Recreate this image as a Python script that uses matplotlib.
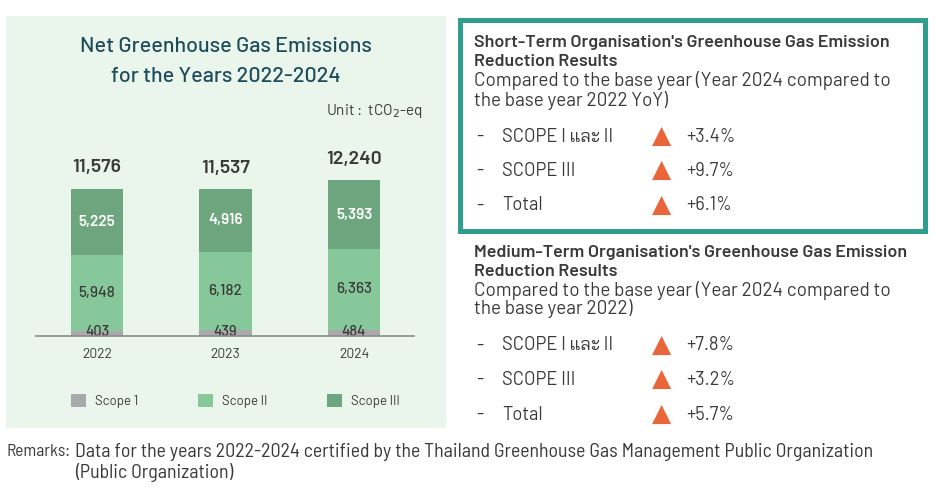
# Net GHG emissions 2022-2024 with short/medium term reduction results
import matplotlib
matplotlib.use("Agg")
import matplotlib.pyplot as plt
from matplotlib import font_manager as fm
from matplotlib.patches import Rectangle

# data
years = ['2022', '2023', '2024']
scope1 = [403, 439, 484]
scope2 = [5948, 6182, 6363]
scope3 = [5225, 4916, 5393]
totals = [11576, 11537, 12240]

items = ['SCOPE I และ II', 'SCOPE III', 'Total']
short_changes = ['+3.4%', '+9.7%', '+6.1%']
medium_changes = ['+7.8%', '+3.2%', '+5.7%']

W, H = 936, 488
C1 = '#A9A9AD'
C2 = '#86C899'
C3 = '#6DA67E'
TXT = '#3A3A3A'
TITLE = '#1D4D5A'
TEAL = '#2F9E8F'
ORANGE = '#E8663A'

FONT = ['Barlow', 'Bai Jamjuree', 'Kanit', 'DejaVu Sans']
names = {f.name for f in fm.fontManager.ttflist}
if 'Barlow Semi Condensed' in names:
    REM_FONT, REM_SIZE = ['Barlow Semi Condensed', 'DejaVu Sans'], 14.3
else:
    REM_FONT, REM_SIZE = FONT, 13.4

fig = plt.figure(figsize=(W / 100, H / 100), dpi=100)

# overlay in pixel coordinates for panels and text
ov = fig.add_axes([0, 0, 1, 1])
ov.set_xlim(0, W)
ov.set_ylim(H, 0)
ov.axis('off')
ov.add_patch(Rectangle((6, 16), 440, 412, facecolor='#EAF5EC', edgecolor='none', zorder=0))
ov.add_patch(Rectangle((459.5, 19.5), 465, 211, facecolor='none', edgecolor=TEAL, lw=3.6, zorder=1))

ov.text(226, 47, 'Net Greenhouse Gas Emissions', family=FONT, fontsize=15.5, weight='medium',
        color=TITLE, ha='center', va='center')
ov.text(226, 76, 'for the Years 2022-2024', family=FONT, fontsize=15.5, weight='medium',
        color=TITLE, ha='center', va='center')
ov.text(423, 111, 'Unit :  tCO$_2$-eq', family=FONT, fontsize=11, color=TXT, ha='right', va='center')

# stacked bars
ax = fig.add_axes([36 / W, (H - 336) / H, 378 / W, 186 / H])
ax.patch.set_alpha(0)
x = range(len(years))
bw = 0.405
b1 = ax.bar(x, scope1, bw, color=C1, label='Scope 1', zorder=2)
b2 = ax.bar(x, scope2, bw, bottom=scope1, color=C2, label='Scope II', zorder=2)
bot3 = [a + b for a, b in zip(scope1, scope2)]
b3 = ax.bar(x, scope3, bw, bottom=bot3, color=C3, label='Scope III', zorder=2)
ax.set_xlim(-0.475, 2.467)
ax.set_ylim(0, 14611)

for i in x:
    ax.annotate(f'{scope1[i]:,}', (i, 0), xytext=(0, 4), textcoords='offset pixels',
                ha='center', va='center', family=FONT, fontsize=10.5, weight='medium',
                color=TXT, zorder=3)
    ax.text(i, scope1[i] + scope2[i] / 2, f'{scope2[i]:,}', ha='center', va='center',
            family=FONT, fontsize=11, weight='medium', color=TXT, zorder=3)
    ax.text(i, bot3[i] + scope3[i] / 2, f'{scope3[i]:,}', ha='center', va='center',
            family=FONT, fontsize=11, weight='semibold', color='white', zorder=3)
    ax.annotate(f'{totals[i]:,}', (i, totals[i]), xytext=(0, 21), textcoords='offset pixels',
                ha='center', va='center', family=FONT, fontsize=14, weight='semibold', color=TXT)

for s in ['top', 'left', 'right']:
    ax.spines[s].set_visible(False)
ax.spines['bottom'].set_color('#8C8C8C')
ax.spines['bottom'].set_linewidth(1.2)
ax.spines['bottom'].set_zorder(4)
ax.set_yticks([])
ax.set_xticks(list(x))
ax.set_xticklabels(years, family=FONT, fontsize=10, color=TXT)
ax.tick_params(axis='x', length=0, pad=9)

leg = ax.legend(handles=[b1, b2, b3], loc='center left', ncol=3,
                bbox_to_anchor=(71 / W, (H - 401) / H), bbox_transform=fig.transFigure,
                frameon=False, prop={'family': FONT, 'size': 9.5}, handlelength=1.15,
                handleheight=1.15, handletextpad=0.65, columnspacing=4.55,
                borderpad=0, borderaxespad=0)
for t in leg.get_texts():
    t.set_color(TXT)


def block(y0, title_lines, sub_lines, changes):
    for k, line in enumerate(title_lines):
        ov.text(474, y0 + 19 * k, line, family=FONT, fontsize=12.9, weight='semibold',
                color=TXT, va='center')
    for k, line in enumerate(sub_lines):
        ov.text(474, y0 + 38 + 19 * k, line, family=FONT, fontsize=13.6, color=TXT,
                va='center')
    for k, (name, ch) in enumerate(zip(items, changes)):
        yy = y0 + 93.5 + k * 34.5
        ov.text(476, yy, '-', family=FONT, fontsize=13.2, color=TXT, va='center')
        ov.text(502, yy, name, family=FONT, fontsize=13.2, color=TXT, va='center')
        ov.text(662, yy - 1, '▲', family=['DejaVu Sans'], fontsize=18, color=ORANGE,
                ha='center', va='center')
        ov.text(686, yy, ch, family=FONT, fontsize=13.2, color=TXT, va='center')


block(43, ["Short-Term Organisation's Greenhouse Gas Emission", 'Reduction Results'],
      ['Compared to the base year (Year 2024 compared to', 'the base year 2022 YoY)'],
      short_changes)
block(252, ["Medium-Term Organisation's Greenhouse Gas Emission", 'Reduction Results'],
      ['Compared to the base year (Year 2024 compared to', 'the base year 2022)'],
      medium_changes)

ov.text(7, 452, 'Remarks:', family=REM_FONT, fontsize=REM_SIZE - 1.8, color=TXT, va='center')
ov.text(75, 452, 'Data for the years 2022-2024 certified by the Thailand Greenhouse Gas '
        'Management Public Organization', family=REM_FONT, fontsize=REM_SIZE, color=TXT,
        va='center')
ov.text(75, 473, '(Public Organization)', family=REM_FONT, fontsize=REM_SIZE, color=TXT,
        va='center')

fig.savefig('out.png', dpi=100)
